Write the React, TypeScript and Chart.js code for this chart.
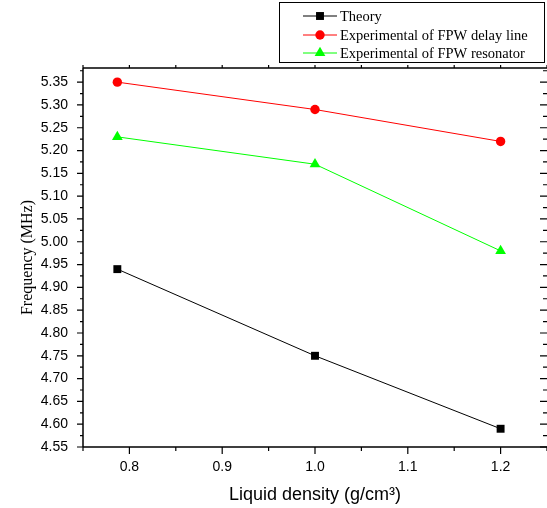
import React, { useEffect, useRef } from "react";
import { Chart, registerables } from "chart.js";

Chart.register(...registerables);

const densities = [0.787, 1.0, 1.2];
const theory = [4.94, 4.75, 4.59];
const delayLine = [5.35, 5.29, 5.22];
const resonator = [5.23, 5.17, 4.98];

const xTicks = [0.8, 0.9, 1.0, 1.1, 1.2];
const xMinorTicks = [0.75, 0.85, 0.95, 1.05, 1.15, 1.25];
const yTicks = [4.55, 4.6, 4.65, 4.7, 4.75, 4.8, 4.85, 4.9, 4.95, 5.0, 5.05, 5.1, 5.15, 5.2, 5.25, 5.3, 5.35];
const yMinorTicks = [4.575, 4.625, 4.675, 4.725, 4.775, 4.825, 4.875, 4.925, 4.975, 5.025, 5.075, 5.125, 5.175, 5.225, 5.275, 5.325, 5.375];

const seriesNames = ["Theory", "Experimental of FPW delay line", "Experimental of FPW resonator"];
const seriesColors = ["#000000", "#ff0000", "#00ff00"];
const seriesMarkers = ["rect", "circle", "triangle"];
const markerRadius = [5.6, 4.7, 6.2];

function drawMarker(ctx: CanvasRenderingContext2D, style: string, x: number, y: number, r: number, color: string) {
  ctx.save();
  ctx.fillStyle = color;
  ctx.beginPath();
  if (style === "rect") {
    const s = Math.SQRT1_2 * r;
    ctx.rect(x - s, y - s, 2 * s, 2 * s);
  } else if (style === "circle") {
    ctx.arc(x, y, r, 0, Math.PI * 2);
  } else {
    let rad = 0;
    ctx.moveTo(x + Math.sin(rad) * r, y - Math.cos(rad) * r);
    rad += (2 * Math.PI) / 3;
    ctx.lineTo(x + Math.sin(rad) * r, y - Math.cos(rad) * r);
    rad += (2 * Math.PI) / 3;
    ctx.lineTo(x + Math.sin(rad) * r, y - Math.cos(rad) * r);
    ctx.closePath();
  }
  ctx.fill();
  ctx.restore();
}

const framePlugin = {
  id: "frame",
  afterDraw(chart: any) {
    const ctx: CanvasRenderingContext2D = chart.ctx;
    const { left, right, top, bottom } = chart.chartArea;
    const xs = chart.scales.x;
    const ys = chart.scales.y;
    ctx.save();
    ctx.strokeStyle = "#000";
    ctx.lineWidth = 1.5;
    ctx.beginPath();
    ctx.moveTo(left, top);
    ctx.lineTo(right, top);
    ctx.moveTo(left, bottom);
    ctx.lineTo(right, bottom);
    ctx.moveTo(left, top);
    ctx.lineTo(left, bottom);
    ctx.moveTo(right + 1, top);
    ctx.lineTo(right + 1, bottom);
    ctx.stroke();
    ctx.lineWidth = 1.2;
    ctx.beginPath();
    xTicks.forEach((v) => {
      const px = xs.getPixelForValue(v);
      ctx.moveTo(px, bottom);
      ctx.lineTo(px, bottom + 7);
      ctx.moveTo(px, top);
      ctx.lineTo(px, top - 3);
    });
    xMinorTicks.forEach((v) => {
      const px = xs.getPixelForValue(v);
      ctx.moveTo(px, bottom);
      ctx.lineTo(px, bottom + 4);
      ctx.moveTo(px, top);
      ctx.lineTo(px, top - 3);
    });
    yTicks.forEach((v) => {
      const py = ys.getPixelForValue(v);
      ctx.moveTo(left, py);
      ctx.lineTo(left - 6, py);
      ctx.moveTo(right, py);
      ctx.lineTo(right - 7, py);
    });
    yMinorTicks.forEach((v) => {
      const py = ys.getPixelForValue(v);
      if (py < top - 0.5) return;
      ctx.moveTo(left, py);
      ctx.lineTo(left - 3, py);
      ctx.moveTo(right, py);
      ctx.lineTo(right - 4, py);
    });
    ctx.stroke();
    ctx.restore();
  },
};

const legendPlugin = {
  id: "customLegend",
  afterDraw(chart: any) {
    const ctx: CanvasRenderingContext2D = chart.ctx;
    ctx.save();
    ctx.strokeStyle = "#000";
    ctx.lineWidth = 1;
    ctx.strokeRect(279.5, 2.5, 265, 60);
    const rows = [16, 35, 53];
    ctx.font = "14.5px 'Liberation Serif'";
    ctx.textBaseline = "middle";
    ctx.textAlign = "left";
    seriesNames.forEach((name, i) => {
      const y = rows[i];
      ctx.strokeStyle = seriesColors[i];
      ctx.lineWidth = 1;
      ctx.beginPath();
      ctx.moveTo(303, y);
      ctx.lineTo(337, y);
      ctx.stroke();
      drawMarker(ctx, seriesMarkers[i], 320, y, markerRadius[i], seriesColors[i]);
      ctx.fillStyle = "#000";
      ctx.fillText(name, 340, y + 1);
    });
    ctx.restore();
  },
};

export default function App() {
  const canvasRef = useRef<HTMLCanvasElement | null>(null);

  useEffect(() => {
    document.body.style.margin = "0";
    const canvas = canvasRef.current;
    if (!canvas) return;
    const datasets = [theory, delayLine, resonator].map((vals, i) => ({
      label: seriesNames[i],
      data: densities.map((d, j) => ({ x: d, y: vals[j] })),
      borderColor: seriesColors[i],
      backgroundColor: seriesColors[i],
      borderWidth: 1,
      pointStyle: seriesMarkers[i] as any,
      pointRadius: markerRadius[i],
      pointBorderWidth: 0,
      pointHoverRadius: markerRadius[i],
      showLine: true,
      tension: 0,
    }));
    const chart = new Chart(canvas, {
      type: "scatter",
      data: { datasets },
      options: {
        animation: false,
        responsive: false,
        devicePixelRatio: 1,
        layout: { autoPadding: false, padding: { top: 68, left: 0, right: 0, bottom: 0 } },
        plugins: { legend: { display: false }, tooltip: { enabled: false } },
        scales: {
          x: {
            type: "linear",
            min: 0.75,
            max: 1.25,
            afterBuildTicks: (s: any) => {
              s.ticks = xTicks.map((v) => ({ value: v }));
            },
            afterFit: (s: any) => {
              s.height = 61;
              s.paddingLeft = 0;
              s.paddingRight = 0;
            },
            ticks: {
              autoSkip: false,
              maxRotation: 0,
              padding: 12,
              color: "#000",
              font: { family: "'Liberation Sans'", size: 14 },
              callback: (v: any) => Number(v).toFixed(1),
            },
            grid: { display: false, drawTicks: false },
            border: { display: false },
            title: {
              display: true,
              text: "Liquid density (g/cm³)",
              color: "#000",
              font: { family: "'Liberation Sans'", size: 18, lineHeight: 1.2 },
              padding: { top: 0, bottom: 2 },
            },
          },
          y: {
            type: "linear",
            min: 4.55,
            max: 5.381,
            afterBuildTicks: (s: any) => {
              s.ticks = yTicks.map((v) => ({ value: v }));
            },
            afterFit: (s: any) => {
              s.width = 83;
              s.paddingTop = 0;
              s.paddingBottom = 0;
            },
            ticks: {
              autoSkip: false,
              padding: 15,
              color: "#000",
              font: { family: "'Liberation Sans'", size: 14 },
              callback: (v: any) => Number(v).toFixed(2),
            },
            grid: { display: false, drawTicks: false },
            border: { display: false },
            title: {
              display: true,
              text: "Frequency (MHz)",
              color: "#000",
              font: { family: "'Liberation Serif'", size: 16, lineHeight: 1.2 },
              padding: { top: 18, bottom: 0 },
            },
          },
        },
      },
      plugins: [framePlugin, legendPlugin],
    });
    return () => chart.destroy();
  }, []);

  return <canvas ref={canvasRef} width={547} height={508} style={{ display: "block", width: 547, height: 508 }} />;
}
